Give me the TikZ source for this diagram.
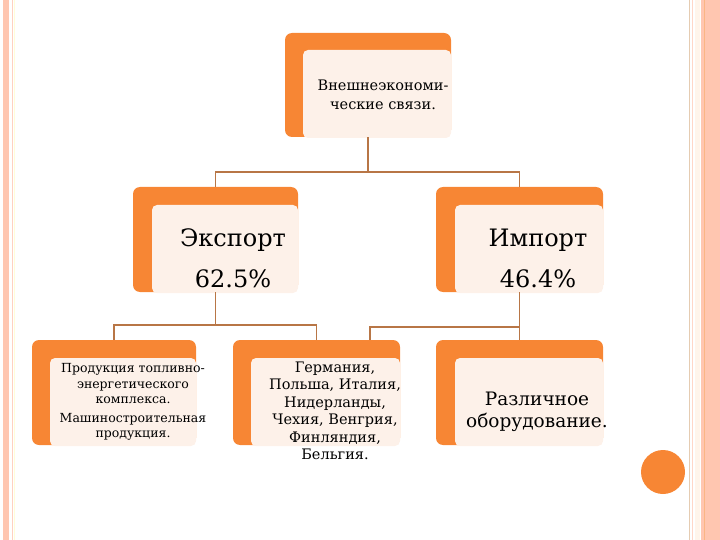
\documentclass[tikz,border=0pt]{standalone}
\usepackage{fontspec}
\setmainfont{DejaVu Serif}
\definecolor{barorange}{RGB}{247,134,52}
\definecolor{boxfill}{RGB}{253,241,233}
\definecolor{linkcol}{RGB}{184,118,70}
\definecolor{salmon}{RGB}{255,198,176}
\begin{document}
\begin{tikzpicture}[x=1pt, y=-1pt,
    bar/.style={fill=barorange, rounded corners=7pt, inner sep=0pt},
    lightbox/.style={fill=boxfill, rounded corners=5pt, inner sep=0pt, anchor=south east},
    boxtext/.style={align=center, inner sep=0pt},
    link/.style={draw=linkcol, line width=1.6pt}]
    \useasboundingbox (0,0) rectangle (720,540);
    % page borders
    \fill[salmon] (3,0) rectangle (9,540);
    \draw[salmon!80, line width=1pt] (12,0) -- (12,540);
    \draw[yellow!15, line width=1pt] (14.5,0) -- (14.5,540);
    \draw[brown!40, line width=0.8pt] (689,0) -- (689,540);
    \draw[salmon!70, line width=0.8pt] (692.5,0) -- (692.5,540);
    \fill[orange!8] (695,0) rectangle (700,540);
    \fill[salmon] (701,0) rectangle (720,540);
    \draw[barorange!60, line width=0.8pt] (704,0) -- (704,540);

    % top level
    \node[bar, minimum width=166pt, minimum height=104pt] (ves) at (368,85) {};
    \node[lightbox, minimum width=148pt, minimum height=88pt] at ([yshift=-1pt]ves.south east) {};
    \node[boxtext, font=\fontsize{14.5}{19}\selectfont] at (383,95) {Внешнеэкономи-\\ческие связи.};

    % second level
    \node[bar, minimum width=165pt, minimum height=105pt] (exp) at (215.5,239.5) {};
    \node[lightbox, minimum width=146pt, minimum height=88pt] at ([yshift=-1pt]exp.south east) {};
    \node[boxtext, font=\fontsize{24}{41}\selectfont] at (233,258) {Экспорт\\62.5\%};

    \node[bar, minimum width=167pt, minimum height=105pt] (imp) at (519.5,239.5) {};
    \node[lightbox, minimum width=148pt, minimum height=88pt] at ([yshift=-1pt]imp.south east) {};
    \node[boxtext, font=\fontsize{24}{41}\selectfont] at (538,258) {Импорт\\46.4\%};

    % third level
    \node[bar, minimum width=164pt, minimum height=105pt] (fuel) at (114,392.5) {};
    \node[lightbox, minimum width=146pt, minimum height=88pt] at ([yshift=-1pt]fuel.south east) {};
    \node[boxtext, font=\fontsize{12.5}{15.5}\selectfont] at (133,402)
        {Продукция топливно-\\энергетического\\комплекса.\\[3pt]Машиностроительная\\продукция.};

    \node[bar, minimum width=167pt, minimum height=105pt] (land) at (316.5,392.5) {};
    \node[lightbox, minimum width=149pt, minimum height=88pt] at ([yshift=-1pt]land.south east) {};
    \node[boxtext, font=\fontsize{14.5}{17.5}\selectfont] at (335,411)
        {Германия,\\Польша, Италия,\\Нидерланды,\\Чехия, Венгрия,\\Финляндия,\\Бельгия.};

    \node[bar, minimum width=167pt, minimum height=105pt] (equip) at (519.5,392.5) {};
    \node[lightbox, minimum width=148pt, minimum height=88pt] at ([yshift=-1pt]equip.south east) {};
    \node[boxtext, font=\fontsize{18.5}{22.5}\selectfont] at (537,412) {Различное\\оборудование.};

    % connectors
    \draw[link] (ves.south) -- ++(0,35) -| (exp.north);
    \draw[link] (ves.south) -- ++(0,35) -| (imp.north);
    \draw[link] (exp.south) -- ++(0,33) -| (fuel.north);
    \draw[link] (exp.south) -- ++(0,33) -| (land.north);
    \draw[link] (imp.south) -- ++(0,35) -| ([xshift=53.5pt]land.north);
    \draw[link] (imp.south) -- (equip.north);

    % decoration dot
    \fill[barorange] (663,472) circle (22);
\end{tikzpicture}
\end{document}
